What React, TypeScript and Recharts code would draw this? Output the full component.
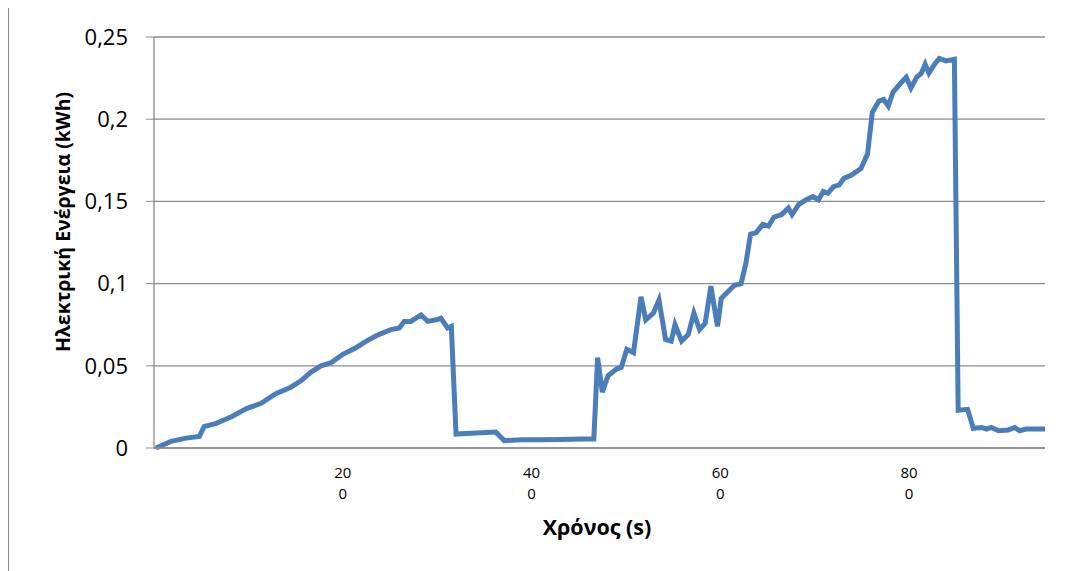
import React from 'react';
import { LineChart, Line, XAxis, YAxis, CartesianGrid, Label } from 'recharts';

// time in seconds
const seconds = [
  2, 18, 34, 48, 53, 66, 82, 98, 113, 129, 145, 156, 166, 177, 188, 200, 214, 225, 238, 251,
  260, 265, 272, 283, 290, 299, 304, 311, 315, 320, 336, 352, 362, 371, 389, 410, 431, 453, 466, 470,
  475, 481, 490, 495, 501, 508, 516, 521, 529, 535, 542, 548, 552, 559, 566, 572, 578, 584, 590, 597,
  601, 608, 615, 622, 627, 632, 638, 645, 651, 657, 665, 672, 676, 683, 691, 698, 704, 709, 714, 720,
  726, 731, 739, 749, 756, 761, 768, 773, 778, 783, 792, 797, 802, 808, 813, 817, 821, 827, 832, 839,
  848, 852, 862, 868, 877, 882, 887, 895, 905, 912, 917, 924, 933, 944,
];

// electrical energy in kWh
const energy = [
  0.0, 0.004, 0.006, 0.007, 0.013, 0.015, 0.019, 0.024, 0.027, 0.033, 0.037, 0.041, 0.046, 0.05, 0.052, 0.057, 0.061, 0.065, 0.069, 0.072,
  0.073, 0.077, 0.077, 0.081, 0.077, 0.078, 0.079, 0.073, 0.074, 0.0085, 0.009, 0.0095, 0.0097, 0.0045, 0.005, 0.005, 0.0052, 0.0055, 0.0055, 0.055,
  0.034, 0.044, 0.048, 0.049, 0.06, 0.058, 0.092, 0.078, 0.082, 0.09, 0.066, 0.065, 0.075, 0.065, 0.069, 0.082, 0.072, 0.076, 0.0985, 0.074,
  0.091, 0.095, 0.099, 0.1, 0.112, 0.13, 0.131, 0.136, 0.135, 0.1405, 0.142, 0.146, 0.142, 0.148, 0.151, 0.153, 0.151, 0.156, 0.155, 0.159,
  0.16, 0.164, 0.166, 0.17, 0.179, 0.204, 0.211, 0.212, 0.208, 0.2165, 0.2225, 0.2255, 0.219, 0.2255, 0.228, 0.2335, 0.228, 0.2335, 0.237, 0.2355,
  0.2365, 0.023, 0.0235, 0.012, 0.0125, 0.0115, 0.0125, 0.0105, 0.011, 0.0125, 0.0105, 0.0115, 0.0115, 0.0115,
];

const xTicks = [200, 400, 600, 800];
const yTicks = [0, 0.05, 0.1, 0.15, 0.2, 0.25];

const data = seconds.map((t, i) => ({ t, kwh: energy[i] }));

const FONT = '"Open Sans", "Noto Sans", sans-serif';

// Excel wrapped "200" onto two lines: "20" / "0"
const WrappedTick = (props: any) => {
  const { x, y, payload } = props;
  const s = String(payload.value);
  return (
    <text x={x} y={y} textAnchor="middle" fill="#000" fontFamily={FONT} fontSize={15}>
      <tspan x={x} dy={22}>{s.slice(0, -1)}</tspan>
      <tspan x={x} dy={21}>{s.slice(-1)}</tspan>
    </text>
  );
};

const YTitle = () => (
  <text
    x={53}
    y={214}
    transform="rotate(-90 53 214)"
    textAnchor="middle"
    dominantBaseline="central"
    fontFamily={FONT}
    fontWeight="bold"
    fontSize={19.5}
    fill="#000"
  >
    Ηλεκτρική Ενέργεια (kWh)
  </text>
);

const XTitle = () => (
  <text x={588} y={527} textAnchor="middle" fontFamily={FONT} fontWeight="bold" fontSize={21.5} fill="#000">
    Χρόνος (s)
  </text>
);

export default function App() {
  return (
    <div
      style={{
        marginTop: -1,
        width: 1063,
        height: 564,
        borderLeft: '1px solid #8c8c8c',
        borderTop: '1px solid #8c8c8c',
        background: '#fff',
      }}
    >
      <LineChart width={1062} height={563} data={data} margin={{ top: 29, right: 26, bottom: 63, left: 0 }}>
        <CartesianGrid vertical={false} stroke="#8c8c8c" strokeWidth={1.3} />
        <XAxis
          dataKey="t"
          type="number"
          domain={[0, 944]}
          ticks={xTicks}
          tick={<WrappedTick />}
          tickLine={false}
          axisLine={{ stroke: '#8c8c8c', strokeWidth: 1.3 }}
          height={60}
        >
          <Label content={<XTitle />} />
        </XAxis>
        <YAxis
          type="number"
          domain={[0, 0.25]}
          ticks={yTicks}
          width={145}
          tickSize={8}
          tickMargin={18}
          tickLine={{ stroke: '#8c8c8c' }}
          axisLine={{ stroke: '#8c8c8c', strokeWidth: 1.3 }}
          tickFormatter={(v: number) => String(v).replace('.', ',')}
          tick={{ fill: '#000', fontFamily: FONT, fontSize: 22 }}
        >
          <Label content={<YTitle />} />
        </YAxis>
        <Line
          type="linear"
          dataKey="kwh"
          stroke="#4a7ebb"
          strokeWidth={5}
          dot={false}
          isAnimationActive={false}
        />
      </LineChart>
    </div>
  );
}
